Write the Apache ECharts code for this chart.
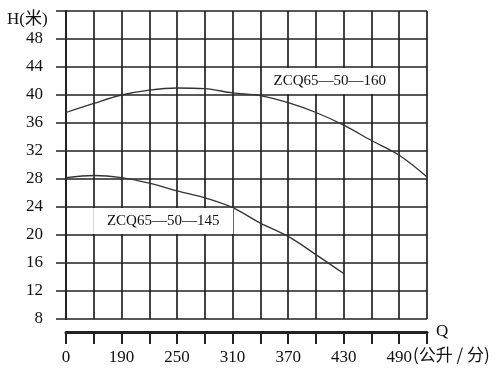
<!DOCTYPE html>
<html>
<head>
<meta charset="utf-8">
<script src="https://cdn.jsdelivr.net/npm/echarts@6/dist/echarts.min.js"></script>
<style>html,body{margin:0;padding:0;background:#fff;}#c{width:500px;height:372px;}</style>
</head>
<body>
<div id="c"></div>
<script>
// Flow Q (L/min) sampled at the grid lines; axis is broken between 0 and 160
var qPoints = [0, 160, 190, 220, 250, 280, 310, 340, 370, 400, 430, 460, 490, 520];
// Head H (m)
var head160 = [37.5, 38.8, 40.0, 40.7, 41.0, 40.9, 40.3, 39.9, 38.9, 37.5, 35.7, 33.5, 31.4, 28.3];
var head145 = [28.2, 28.5, 28.2, 27.4, 26.3, 25.3, 23.9, 21.7, 19.8, 17.2, 14.5];
var seriesNames = ['ZCQ65—50—160', 'ZCQ65—50—145'];
var xTickLabels = ['0', '190', '250', '310', '370', '430', '490'];
var yTickLabels = [8, 12, 16, 20, 24, 28, 32, 36, 40, 44, 48];
var labelAnchors = [[415, 42], [235, 22]];

var BREAK_SHIFT = 130; // axis start drawn as "0"
function qToAxis(q) { return q === 0 ? 0 : q - BREAK_SHIFT; }
function axisToLabel(v) {
  var q = v === 0 ? 0 : v + BREAK_SHIFT;
  return xTickLabels.indexOf(String(q)) >= 0 ? String(q) : '';
}
function buildData(heads) {
  return heads.map(function (h, i) { return [qToAxis(qPoints[i]), h]; });
}

var serif = '"Liberation Serif", "DejaVu Serif", serif';
var ink = '#222';
var chart = echarts.init(document.getElementById('c'), null, {renderer: 'canvas'});

function labelMark(anchor, text, w) {
  return {
    silent: true,
    data: [{
      coord: [qToAxis(anchor[0]), anchor[1]],
      symbol: 'rect',
      symbolSize: [w, 26],
      itemStyle: {color: '#fff'},
      label: {show: true, position: 'inside', formatter: text, color: '#111',
        fontFamily: serif, fontSize: 15}
    }]
  };
}

chart.setOption({
  backgroundColor: '#fff',
  animation: false,
  grid: {left: 66, right: 73, top: 11, bottom: 53},
  xAxis: {
    type: 'value', min: 0, max: 390, interval: 30, offset: 13,
    name: 'Q', nameLocation: 'end', nameGap: 9,
    nameTextStyle: {fontFamily: serif, fontSize: 17, color: '#111', padding: [0, 0, 8, 0]},
    axisLine: {show: true, lineStyle: {color: ink, width: 3}},
    axisTick: {show: true, length: 12, lineStyle: {color: ink, width: 2}},
    axisLabel: {formatter: axisToLabel, margin: 17, fontFamily: serif, fontSize: 17, color: '#111'},
    splitLine: {show: true, lineStyle: {color: ink, width: 1.7}}
  },
  yAxis: {
    type: 'value', min: 8, max: 52, interval: 4, offset: 12,
    axisLine: {show: true, lineStyle: {color: ink, width: 2}},
    axisTick: {show: true, length: 10, lineStyle: {color: ink, width: 1.5}},
    axisLabel: {
      formatter: function (v) { return yTickLabels.indexOf(v) >= 0 ? String(v) : ''; },
      margin: 11, fontFamily: serif, fontSize: 17, color: '#111'
    },
    splitLine: {show: true, lineStyle: {color: ink, width: 1.7}}
  },
  graphic: [
    {type: 'text', left: 7, top: 11, style: {text: 'H(米)', font: '17px "Liberation Serif", "Noto Sans CJK SC", serif', fill: '#111'}},
    {type: 'text', left: 413, top: 346, style: {text: '(公升 / 分)', font: '17px "Noto Sans CJK SC", serif', fill: '#111'}}
  ],
  series: [
    {
      name: seriesNames[0], type: 'line', data: buildData(head160), smooth: 0.35,
      symbol: 'none', lineStyle: {color: '#333', width: 1.3},
      markPoint: labelMark(labelAnchors[0], seriesNames[0], 134)
    },
    {
      name: seriesNames[1], type: 'line', data: buildData(head145), smooth: 0.35,
      symbol: 'none', lineStyle: {color: '#333', width: 1.3},
      markPoint: labelMark(labelAnchors[1], seriesNames[1], 140)
    }
  ]
});
</script>
</body>
</html>
